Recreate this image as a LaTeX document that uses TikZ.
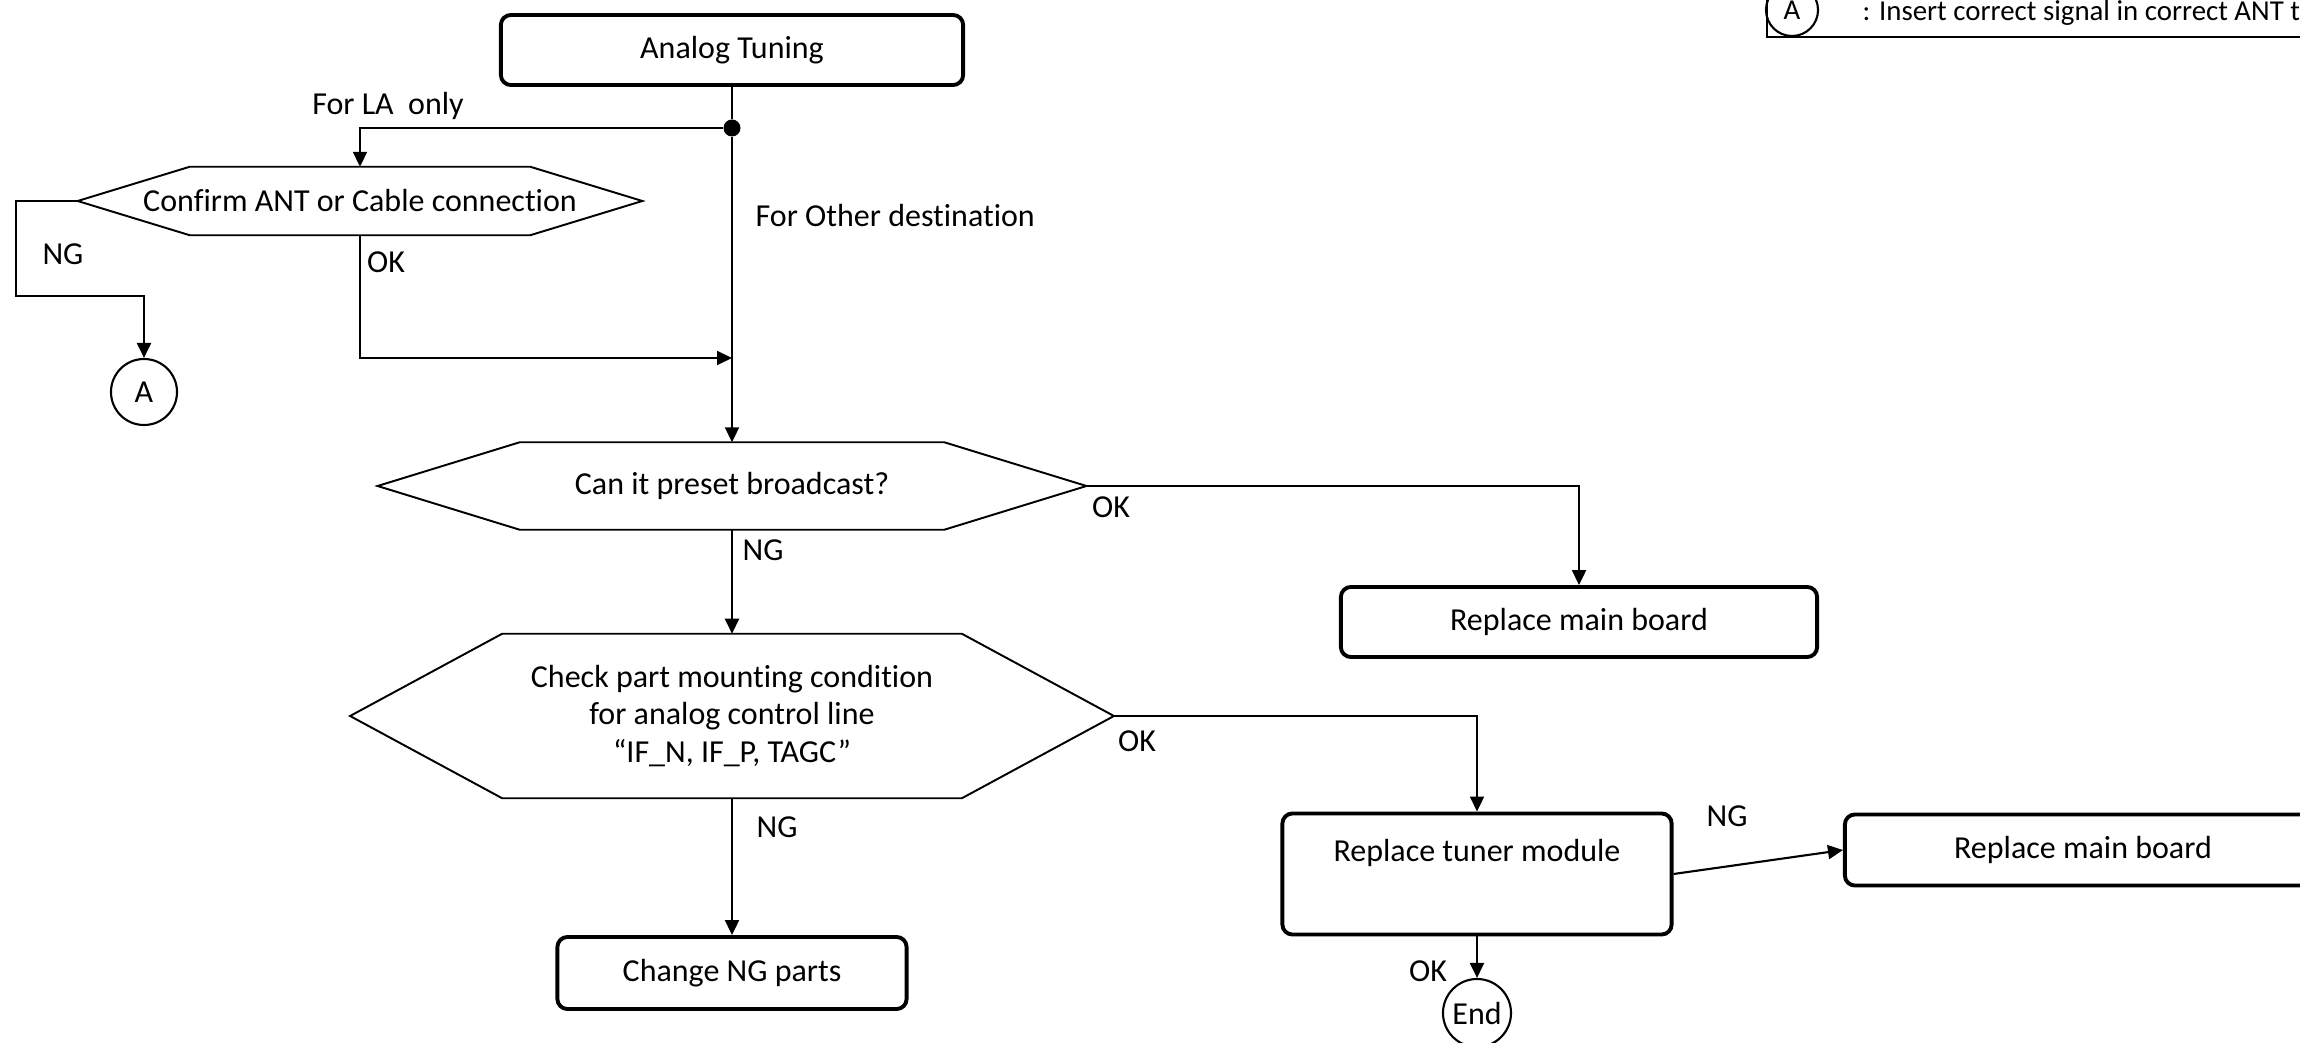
\documentclass[tikz,border=0pt]{standalone}
\usepackage{fontspec}
\setmainfont{Carlito}[Ligatures={TeX,NoCommon}]
\usepackage{tikz}
\usetikzlibrary{positioning,arrows.meta}

\begin{document}
\begin{tikzpicture}[x=0.01cm,y=-0.01cm,
    font=\fontsize{9.1}{10.7}\selectfont,
    box/.style={draw,line width=1.1pt,rounded corners=0.1cm,inner sep=0pt,align=center},
    hexa/.style={inner sep=0pt,align=center,append after command={\pgfextra{%
      \draw[line width=0.55pt] (\tikzlastnode.west) -- ([xshift=#1]\tikzlastnode.north west)
        -- ([xshift=-#1]\tikzlastnode.north east) -- (\tikzlastnode.east)
        -- ([xshift=-#1]\tikzlastnode.south east) -- ([xshift=#1]\tikzlastnode.south west) -- cycle;}}},
    conn/.style={draw,circle,line width=0.6pt,inner sep=0pt},
    flow/.style={-{Triangle[length=0.15cm,width=0.14cm]},line width=0.6pt},
    tag/.style={inner sep=0pt}]
  \useasboundingbox (0,0) rectangle (2300,1043);
  \clip (0,0) rectangle (2300,1043);

  % main column
  \node[box,minimum width=4.62cm,minimum height=0.7cm] (tune) at (732,50) {Analog Tuning};
  \node[circle,fill,inner sep=0pt,minimum size=0.17cm] (jn) at (732,128) {};
  \node[hexa=1.42cm,minimum width=7.07cm,minimum height=0.86cm] (pre) at (732,486) {Can it preset broadcast?};
  \node[hexa=1.52cm,minimum width=7.62cm,minimum height=1.63cm] (chk) at (732,716) {Check part mounting condition\\for analog control line\\“IF\_N, IF\_P, TAGC”};
  \node[box,minimum width=3.49cm,minimum height=0.72cm] (ngp) at (732,973) {Change NG parts};

  % LA branch
  \node[hexa=1.12cm,minimum width=5.63cm,minimum height=0.67cm] (conf) at (360,201) {Confirm ANT or Cable connection};
  \node[conn,minimum size=0.66cm] (ca) at (144,392) {A};
  \coordinate (bend) at (16,296);
  \coordinate (mrg) at (732,358);

  % right side
  \node[box,minimum width=4.76cm,minimum height=0.7cm] (mb1) at (1579,622) {Replace main board};
  \node[box,minimum width=3.89cm,text height=0.48cm,text depth=0.73cm] (tun) at (1477,874) {Replace tuner module};
  \node[box,minimum width=4.76cm,minimum height=0.71cm] (mb2) at (2083,850) {Replace main board};
  \node[conn,minimum size=0.68cm] (fin) at (1477,1013) {End};

  % labels
  \node[tag] (la) at (388,106) {For LA~ only};
  \node[tag,anchor=west] (oth) at (755,216) {For Other destination};
  \node[tag] (ng1) at (63,254) {NG};
  \node[tag] (ok1) at (386,262) {OK};
  \node[tag] (ok2) at (1111,507) {OK};
  \node[tag] (ng2) at (763,550) {NG};
  \node[tag] (ok3) at (1137,741) {OK};
  \node[tag] (ng3) at (777,827) {NG};
  \node[tag] (ng4) at (1727,816) {NG};
  \node[tag] (ok4) at (1428,971) {OK};

  % connectors
  \draw[line width=0.6pt] (tune) -- (jn);
  \draw[flow] (jn) -- (pre);
  \draw[flow] (jn) -| (conf);
  \draw[flow] (conf.west) -| (bend) -| (ca);
  \draw[flow] (conf) |- (mrg);
  \draw[flow] (pre) -| (mb1);
  \draw[flow] (pre) -- (chk);
  \draw[flow] (chk) -| (tun);
  \draw[flow] (chk) -- (ngp);
  \draw[flow] (tun.east) -- (mb2.west);
  \draw[flow] (tun) -- (fin);

  % key
  \draw[line width=0.6pt] (1767,-60) rectangle (2400,37);
  \node[conn,minimum size=0.52cm,font=\fontsize{8.2}{9}\selectfont] (keyA) at (1792,10) {A};
  \node[tag,anchor=west,font=\fontsize{8.2}{9}\selectfont] (keytxt) at (1862,13) {: Insert correct signal in correct ANT t};
\end{tikzpicture}
\end{document}
